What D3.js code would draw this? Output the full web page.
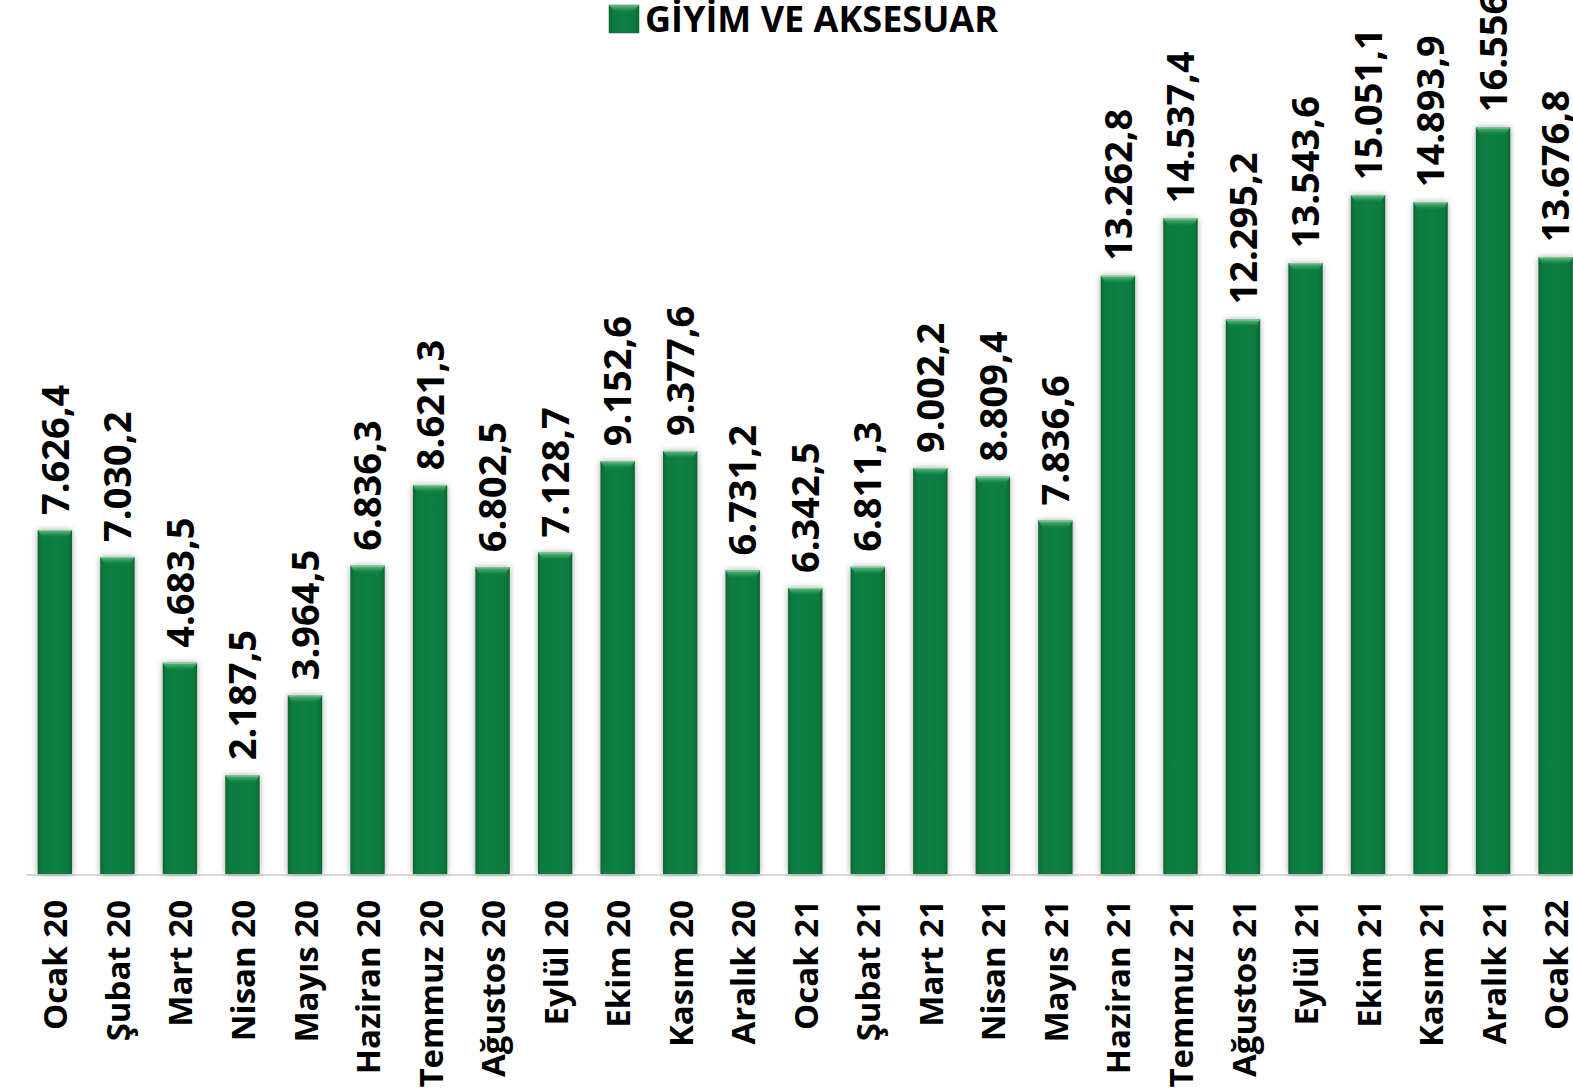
<!DOCTYPE html>
<html><head><meta charset="utf-8">
<script src="https://cdn.jsdelivr.net/npm/d3@7"></script>
<style>
html,body{margin:0;padding:0;background:#fff;overflow:hidden;}
svg{display:block;}
text{font-family:"Open Sans",sans-serif;font-weight:700;fill:#000;}
</style></head>
<body>
<svg id="chart" width="1573" height="1092"></svg>
<script>
const categories = ["Ocak 20","Şubat 20","Mart 20","Nisan 20","Mayıs 20","Haziran 20","Temmuz 20","Ağustos 20","Eylül 20","Ekim 20","Kasım 20","Aralık 20","Ocak 21","Şubat 21","Mart 21","Nisan 21","Mayıs 21","Haziran 21","Temmuz 21","Ağustos 21","Eylül 21","Ekim 21","Kasım 21","Aralık 21","Ocak 22"];
const values = [7626.4,7030.2,4683.5,2187.5,3964.5,6836.3,8621.3,6802.5,7128.7,9152.6,9377.6,6731.2,6342.5,6811.3,9002.2,8809.4,7836.6,13262.8,14537.4,12295.2,13543.6,15051.1,14893.9,16556.9,13676.8];
const seriesName = "GİYİM VE AKSESUAR";

const svg = d3.select("#chart");
const defs = svg.append("defs");

const g1 = defs.append("linearGradient").attr("id","barGrad").attr("x1","0").attr("x2","1").attr("y1","0").attr("y2","0");
g1.append("stop").attr("offset","0").attr("stop-color","#0a6633");
g1.append("stop").attr("offset","0.12").attr("stop-color","#0c7a3e");
g1.append("stop").attr("offset","0.5").attr("stop-color","#0e8043");
g1.append("stop").attr("offset","0.88").attr("stop-color","#0c7a3e");
g1.append("stop").attr("offset","1").attr("stop-color","#0a6633");

const g2 = defs.append("linearGradient").attr("id","topGrad").attr("x1","0").attr("x2","0").attr("y1","0").attr("y2","1");
g2.append("stop").attr("offset","0").attr("stop-color","#6cc08a").attr("stop-opacity","0.95");
g2.append("stop").attr("offset","0.5").attr("stop-color","#3aa060").attr("stop-opacity","0.7");
g2.append("stop").attr("offset","1").attr("stop-color","#0e8043").attr("stop-opacity","0");

const f = defs.append("filter").attr("id","shadow").attr("x","-50%").attr("y","-10%").attr("width","200%").attr("height","120%");
f.append("feDropShadow").attr("dx","0").attr("dy","0").attr("stdDeviation","3").attr("flood-color","#000").attr("flood-opacity","0.35");

const x = d3.scaleBand().domain(categories).range([23.6, 1586.9]).paddingInner(0.45).paddingOuter(0.225);
const y = d3.scaleLinear().domain([0, 20000]).range([874, -28]);

const locale = d3.formatLocale({decimal:",", thousands:".", grouping:[3], currency:["",""]});
const fmt = locale.format(",.1f");

const data = categories.map((c,i)=>({c, v: values[i]}));

// axis line
svg.append("line").attr("x1",26).attr("x2",1573).attr("y1",y(0)+1).attr("y2",y(0)+1)
  .attr("stroke","#d9d9d9").attr("stroke-width",2);

const bars = svg.append("g").selectAll("g").data(data).join("g");
bars.append("rect")
  .attr("x", d=>x(d.c)).attr("width", x.bandwidth())
  .attr("y", d=>y(d.v)).attr("height", d=>y(0)-y(d.v))
  .attr("fill","url(#barGrad)").attr("filter","url(#shadow)");
// top bevel
bars.append("path")
  .attr("d", d=>{
    const x0 = x(d.c), w = x.bandwidth(), t = y(d.v);
    return `M${x0},${t} L${x0+w},${t} L${x0+w-5},${t+8} L${x0+5},${t+8} Z`;
  })
  .attr("fill","url(#topGrad)");
bars.append("line")
  .attr("x1", d=>x(d.c)+1).attr("x2", d=>x(d.c)+x.bandwidth()-1)
  .attr("y1", d=>y(d.v)+0.5).attr("y2", d=>y(d.v)+0.5)
  .attr("stroke","#8fd3a6").attr("stroke-width",1).attr("opacity",0.8);

// value labels
svg.append("g").selectAll("text").data(data).join("text")
  .attr("transform", d=>`translate(${x(d.c)+x.bandwidth()/2},${y(d.v)-15}) rotate(-90)`)
  .attr("dy","0.36em")
  .attr("text-anchor","start")
  .style("font-size","38px")
  .text(d=>fmt(d.v));

// category labels
const xAxis = d3.axisBottom(x).tickSize(0).tickPadding(0);
const ax = svg.append("g").attr("transform",`translate(0,${y(0)})`).call(xAxis);
ax.select(".domain").remove();
ax.selectAll("text")
  .attr("transform","translate(0,26) rotate(-90)")
  .attr("x",0).attr("y",0)
  .attr("dy","0.38em")
  .attr("text-anchor","end")
  .style("font-size","33px")
  .style("font-family","'Open Sans',sans-serif")
  .style("font-weight","700")
  .attr("fill","#000");

// legend
const leg = svg.append("g");
leg.append("rect").attr("x",609).attr("y",5).attr("width",30).attr("height",28)
  .attr("fill","url(#barGrad)").attr("stroke","#0a6633").attr("stroke-width",0.5);
leg.append("path").attr("d","M609,5 L639,5 L632,13 L616,13 Z").attr("fill","url(#topGrad)");
leg.append("text").attr("x",645).attr("y",32).style("font-size","36px").text(seriesName);
</script>
</body></html>
